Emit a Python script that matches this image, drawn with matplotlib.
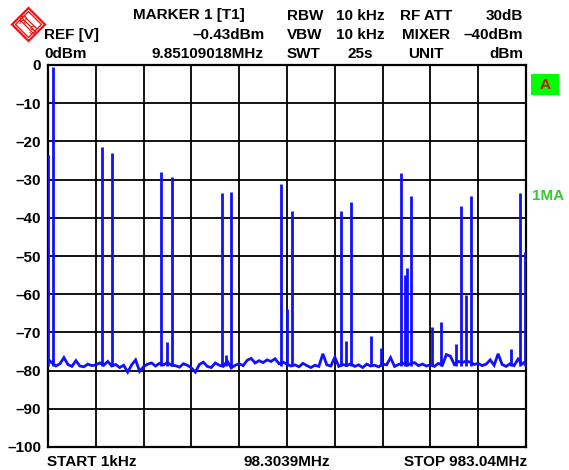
import numpy as np
import matplotlib
matplotlib.use("Agg")
import matplotlib.pyplot as plt
from matplotlib.patches import Polygon, Rectangle

plt.rcParams['font.family'] = ['Liberation Sans', 'DejaVu Sans']
plt.rcParams['font.weight'] = 'bold'

# ---- data ----
span_start_mhz = 0.001
span_stop_mhz = 983.04
ref_level = 0
y_ticks = [0, -10, -20, -30, -40, -50, -60, -70, -80, -90, -100]
y_tick_labels = ["0", "\u201310", "\u201320", "\u201330", "\u201340", "\u201350",
                 "\u201360", "\u201370", "\u201380", "\u201390", "\u2013100"]

# noise floor trace, one value every span/120
noise_dbm = [
    -77.0, -78.0, -78.8, -78.2, -76.6, -78.4, -78.9, -77.4, -78.8, -79.0,
    -78.3, -78.7, -78.5, -78.0, -78.6, -77.6, -78.8, -78.4, -79.2, -78.6,
    -80.4, -78.5, -77.2, -80.2, -79.0, -78.3, -78.0, -78.8, -78.1, -78.5,
    -77.9, -78.6, -78.7, -79.1, -78.2, -78.6, -79.3, -80.4, -78.4, -77.8,
    -78.9, -79.2, -78.0, -78.6, -78.9, -77.5, -79.3, -78.6, -78.2, -78.7,
    -77.3, -76.8, -78.0, -77.4, -77.9, -77.2, -77.6, -76.9, -78.2, -77.8,
    -78.3, -78.8, -78.5, -79.0, -78.1, -78.7, -79.2, -78.6, -78.9, -75.6,
    -78.5, -78.8, -76.5, -78.9, -78.4, -78.7, -78.2, -78.9, -78.5, -79.2,
    -78.3, -78.8, -78.6, -79.0, -78.3, -78.5, -76.6, -78.9, -78.4, -78.0,
    -78.6, -78.2, -77.9, -78.7, -78.3, -78.8, -78.5, -78.9, -78.1, -78.6,
    -75.8, -76.2, -78.4, -77.6, -77.9, -77.5, -77.8, -78.4, -78.1, -78.7,
    -78.3, -77.2, -78.6, -75.6, -78.4, -78.9, -78.2, -78.7, -77.0, -78.3,
    -77.5,
]
noise_freq_mhz = np.linspace(0, span_stop_mhz, len(noise_dbm))

# spectral lines (MHz, dBm)
peak_freq_mhz = [0.5, 9.85, 111.0, 131.6, 233.0, 244.7, 255.6, 357.0, 366.0, 377.0,
                 479.8, 490.9, 501.0, 603.0, 612.9, 623.7, 664.8, 684.0, 725.0, 733.5,
                 737.5, 747.0, 789.0, 808.8, 839.0, 850.0, 859.6, 869.0, 951.4, 970.7,
                 981.7]
peak_dbm = [-23.6, -0.43, -21.5, -23.1, -27.9, -72.6, -29.4, -33.6, -75.9, -33.3,
            -31.2, -63.9, -38.1, -38.2, -72.2, -35.9, -70.9, -74.1, -28.4, -55.0,
            -53.1, -34.2, -68.5, -67.4, -73.1, -36.9, -60.2, -34.2, -74.4, -33.6,
            -49.0]

# ---- figure ----
W, H = 569, 470
fig = plt.figure(figsize=(W / 100, H / 100), dpi=100)
fig.patch.set_facecolor('white')

def fx(px):
    return px / W

def fy(py):
    return 1 - py / H

L, R, T, B = 48, 526, 65, 447
ax = fig.add_axes([fx(L), fy(B), fx(R) - fx(L), fy(T) - fy(B)])
ax.set_xlim(0, span_stop_mhz)
ax.set_ylim(-100, ref_level)
ax.set_xticks(np.linspace(0, span_stop_mhz, 11))
ax.set_xticklabels([])
ax.set_yticks(y_ticks)
ax.set_yticklabels(y_tick_labels, fontsize=11, fontweight='bold')
ax.tick_params(length=0, pad=5)
ax.grid(True, color='black', linewidth=1.3)
for s in ax.spines.values():
    s.set_color('black')
    s.set_linewidth(1.6)

blue = '#1010ff'
ax.plot(noise_freq_mhz, noise_dbm, color=blue, linewidth=2.0, zorder=3,
        solid_joinstyle='miter')
ax.vlines(peak_freq_mhz, -78.8, peak_dbm, color=blue, linewidth=2.0, zorder=3)

# ---- header texts ----
fs = 11
fig.text(fx(245), fy(15.5), "MARKER 1 [T1]", ha='right', va='center', fontsize=fs)
fig.text(fx(44), fy(35), "REF [V]", ha='left', va='center', fontsize=fs)
fig.text(fx(265), fy(35), "\u20130.43dBm", ha='right', va='center', fontsize=fs)
fig.text(fx(44), fy(54.5), "0dBm", ha='left', va='center', fontsize=fs)
fig.text(fx(264), fy(54.5), "9.85109018MHz", ha='right', va='center', fontsize=fs)

rows = [("RBW", "10 kHz", "RF ATT", "30dB"),
        ("VBW", "10 kHz", "MIXER", "\u201340dBm"),
        ("SWT", "25s", "UNIT", "dBm")]
for i, (a, b, c, d) in enumerate(rows):
    y = fy(15.5 + i * 19.5)
    fig.text(fx(287), y, a, ha='left', va='center', fontsize=fs)
    fig.text(fx(360.5), y, b, ha='center', va='center', fontsize=fs)
    fig.text(fx(426), y, c, ha='center', va='center', fontsize=fs)
    fig.text(fx(523.5), y, d, ha='right', va='center', fontsize=fs)

# ---- bottom texts ----
fig.text(fx(47), fy(462), "START 1kHz", ha='left', va='center', fontsize=fs)
fig.text(fx(287), fy(462), "98.3039MHz", ha='center', va='center', fontsize=fs)
fig.text(fx(527), fy(462), "STOP 983.04MHz", ha='right', va='center', fontsize=fs)

# ---- right side annotations ----
fig.patches.append(Rectangle((fx(531), fy(95)), fx(559) - fx(531), fy(74) - fy(95),
                             transform=fig.transFigure, facecolor='#00ff00',
                             edgecolor='none'))
fig.text(fx(545), fy(85), "A", ha='center', va='center', fontsize=fs, color='#cc1111')
fig.text(fx(532), fy(196), "1MA", ha='left', va='center', fontsize=fs, color='#33cc33')

# ---- R&S logo ----
red = '#ee1111'
cx, cy, r = 28.5, 24.5, 16.5
dia = [(cx - r, cy), (cx, cy - r), (cx + r, cy), (cx, cy + r)]
fig.patches.append(Polygon([(fx(a), fy(b)) for a, b in dia], closed=True,
                           transform=fig.transFigure, facecolor='none',
                           edgecolor=red, linewidth=1.6))
r2 = 13.0
dia2 = [(cx - r2, cy), (cx, cy - r2), (cx + r2, cy), (cx, cy + r2)]
fig.patches.append(Polygon([(fx(a), fy(b)) for a, b in dia2], closed=True,
                           transform=fig.transFigure, facecolor='none',
                           edgecolor=red, linewidth=1.0))
for k in (-2.0, 0, 2.0):
    x0, y0 = cx - 6 + k, cy - 6 - k
    x1, y1 = cx + 6 + k, cy + 6 - k
    fig.lines.append(plt.Line2D([fx(x0), fx(x1)], [fy(y0), fy(y1)],
                                transform=fig.transFigure, color=red, linewidth=0.9))
fig.text(fx(cx - 6), fy(cy - 4), "R", ha='center', va='center', fontsize=8,
         color=red, fontweight='normal', fontstyle='italic')
fig.text(fx(cx + 4), fy(cy + 7), "S", ha='center', va='center', fontsize=8,
         color=red, fontweight='normal', fontstyle='italic')

fig.savefig("out.png", dpi=100)
